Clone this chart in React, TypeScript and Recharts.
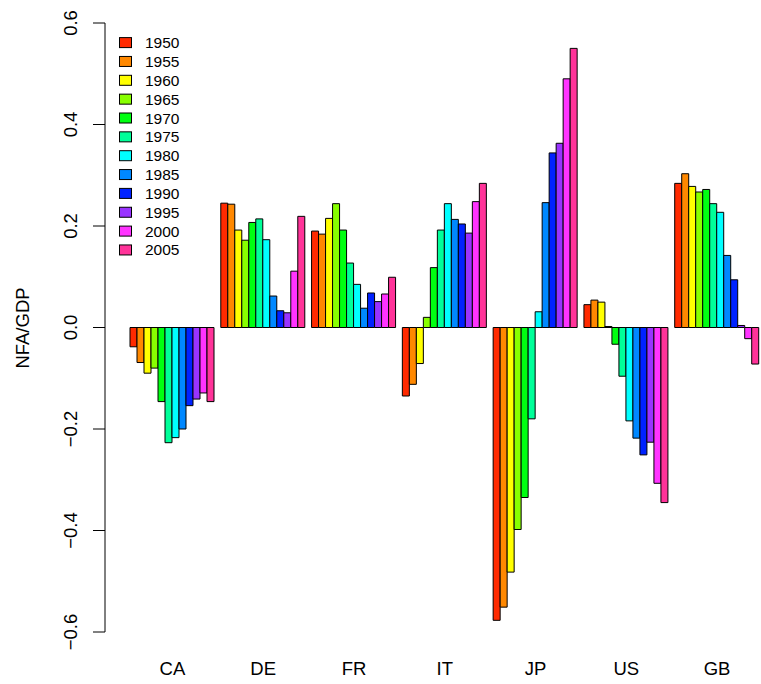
import React from 'react';
import { BarChart, Bar, XAxis, YAxis, Legend } from 'recharts';

const countries = ['CA', 'DE', 'FR', 'IT', 'JP', 'US', 'GB'];
const years = ['1950', '1955', '1960', '1965', '1970', '1975', '1980', '1985', '1990', '1995', '2000', '2005'];
const colors = [
  '#FF2A00', '#FF8800', '#FFFF00', '#88FF00', '#00FF11', '#00FF99',
  '#00FFFF', '#0088FF', '#0022FF', '#9933FF', '#FF33FF', '#FF3399',
];
const yTicks = [-0.6, -0.4, -0.2, 0, 0.2, 0.4, 0.6];

// NFA/GDP by year, in the order of `countries`
const y1950 = [-0.038, 0.245, 0.19, -0.135, -0.577, 0.045, 0.284];
const y1955 = [-0.069, 0.243, 0.184, -0.112, -0.551, 0.054, 0.303];
const y1960 = [-0.09, 0.192, 0.215, -0.071, -0.482, 0.05, 0.278];
const y1965 = [-0.08, 0.172, 0.244, 0.02, -0.398, 0.002, 0.267];
const y1970 = [-0.146, 0.207, 0.192, 0.118, -0.335, -0.033, 0.272];
const y1975 = [-0.227, 0.214, 0.127, 0.192, -0.18, -0.096, 0.244];
const y1980 = [-0.217, 0.173, 0.085, 0.244, 0.031, -0.184, 0.227];
const y1985 = [-0.2, 0.062, 0.038, 0.213, 0.246, -0.218, 0.142];
const y1990 = [-0.154, 0.033, 0.068, 0.204, 0.344, -0.251, 0.094];
const y1995 = [-0.141, 0.029, 0.051, 0.186, 0.363, -0.226, 0.004];
const y2000 = [-0.129, 0.111, 0.066, 0.248, 0.49, -0.307, -0.022];
const y2005 = [-0.146, 0.219, 0.099, 0.284, 0.55, -0.345, -0.072];

const series = [y1950, y1955, y1960, y1965, y1970, y1975, y1980, y1985, y1990, y1995, y2000, y2005];

const data = countries.map((c, i) => {
  const row: Record<string, number | string> = { country: c };
  years.forEach((yr, j) => {
    row[yr] = series[j][i];
  });
  return row;
});

const FONT = '"Liberation Sans", Arial, Helvetica, sans-serif';

const fmt = (v: number) => {
  const s = Math.abs(v).toFixed(1);
  return v < 0 ? '\u2212' + s : s;
};

const YTick = (props: any) => {
  const { x, y, payload } = props;
  return (
    <text
      x={x}
      y={y}
      transform={`rotate(-90 ${x} ${y})`}
      textAnchor="middle"
      dominantBaseline="central"
      fontSize={18.5}
      fontFamily={FONT}
      fill="#000"
    >
      {fmt(payload.value)}
    </text>
  );
};

const XTick = (props: any) => {
  const { x, y, payload } = props;
  return (
    <text x={x} y={y} textAnchor="middle" dominantBaseline="central" fontSize={18.5} fontFamily={FONT} fill="#000">
      {payload.value}
    </text>
  );
};

const LegendBox = () => (
  <svg width={90} height={240}>
    {years.map((yr, i) => {
      const cy = 12.6 + i * 18.85;
      return (
        <g key={yr}>
          <rect x={7.5} y={cy - 5} width={12} height={10} fill={colors[i]} stroke="#000" strokeWidth={1} />
          <text x={33} y={cy} dominantBaseline="central" fontSize={15.5} fontFamily={FONT} fill="#000">
            {yr}
          </text>
        </g>
      );
    })}
  </svg>
);

export default function App() {
  return (
    <div style={{ position: 'absolute', left: 0, top: 0, width: 761, height: 684, overflow: 'hidden', background: '#fff' }}>
      <BarChart
        width={770}
        height={684}
        data={data}
        margin={{ top: 23, right: 0, bottom: 0, left: 0 }}
        barGap={0}
        barSize={7}
      >
        <XAxis
          dataKey="country"
          axisLine={false}
          tickLine={false}
          tickSize={0}
          tickMargin={36}
          height={52}
          padding={{ left: 22, right: 7.5 }}
          tick={<XTick />}
          interval={0}
        />
        <YAxis
          width={105}
          domain={[-0.6, 0.6]}
          ticks={yTicks}
          allowDataOverflow
          axisLine={{ stroke: '#000', strokeWidth: 1 }}
          tickLine={{ stroke: '#000', strokeWidth: 1 }}
          tickSize={12}
          tickMargin={23}
          tick={<YTick />}
          label={{
            content: () => (
              <text
                x={22}
                y={328}
                transform="rotate(-90 22 328)"
                textAnchor="middle"
                dominantBaseline="central"
                fontSize={18.5}
                fontFamily={FONT}
                fill="#000"
              >
                NFA/GDP
              </text>
            ),
          }}
        />
        <Legend
          layout="vertical"
          align="center"
          verticalAlign="middle"
          content={<LegendBox />}
          wrapperStyle={{ left: 112, top: 30, width: 90, height: 240 }}
        />
        {years.map((yr, i) => (
          <Bar
            key={yr}
            dataKey={yr}
            fill={colors[i]}
            stroke="#000"
            strokeWidth={1}
            isAnimationActive={false}
          />
        ))}
      </BarChart>
    </div>
  );
}
